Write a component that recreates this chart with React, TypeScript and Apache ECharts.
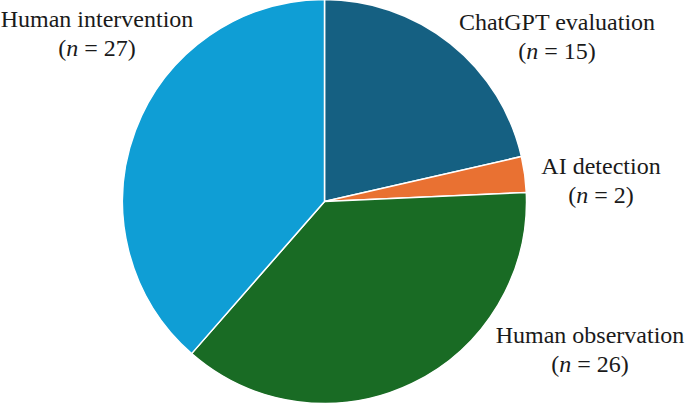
import React, { useEffect, useRef } from "react";
import * as echarts from "echarts";

const categories = ["ChatGPT evaluation", "AI detection", "Human observation", "Human intervention"];
const counts = [15, 2, 26, 27];
const colors = ["#156082", "#E97132", "#196B24", "#0F9ED5"];
// label centre x, line-1 y, line-2 y
const labelPos: [number, number, number][] = [
  [557, 22, 51],
  [601, 166, 195],
  [590, 335, 364],
  [97, 19, 48],
];

const FONT = "Liberation Serif";
const SIZE = 24;

function measure(text: string, italic: boolean): number {
  const c = document.createElement("canvas").getContext("2d");
  if (!c) return text.length * SIZE * 0.5;
  c.font = `${italic ? "italic " : ""}${SIZE}px '${FONT}'`;
  return c.measureText(text).width;
}

export default function App() {
  const ref = useRef<HTMLDivElement>(null);
  useEffect(() => {
    if (!ref.current) return;
    const chart = echarts.init(ref.current, null, { renderer: "svg" });
    const txt = (text: string, x: number, y: number, align: string, italic = false) => ({
      type: "text",
      x,
      y,
      silent: true,
      style: {
        text,
        fontFamily: FONT,
        fontSize: SIZE,
        fontStyle: italic ? "italic" : "normal",
        fill: "#1a1a1a",
        align,
        verticalAlign: "middle",
      },
    });
    const graphics: any[] = [];
    categories.forEach((c, i) => {
      const [cx, y1, y2] = labelPos[i];
      graphics.push(txt(c, cx, y1, "center"));
      const p1 = "(";
      const p2 = "n";
      const p3 = ` = ${counts[i]})`;
      const w1 = measure(p1, false);
      const w2 = measure(p2, true);
      const w3 = measure(p3, false);
      const start = cx - (w1 + w2 + w3) / 2;
      graphics.push(txt(p1, start, y2, "left"));
      graphics.push(txt(p2, start + w1, y2, "left", true));
      graphics.push(txt(p3, start + w1 + w2, y2, "left"));
    });
    chart.setOption({
      animation: false,
      backgroundColor: "#ffffff",
      series: [
        {
          type: "pie",
          center: [324.5, 201.5],
          radius: 202,
          startAngle: 90,
          clockwise: true,
          silent: true,
          itemStyle: { borderColor: "#ffffff", borderWidth: 1.5 },
          label: { show: false },
          labelLine: { show: false },
          data: categories.map((c, i) => ({ name: c, value: counts[i], itemStyle: { color: colors[i] } })),
        },
      ],
      graphic: graphics,
    });
    return () => chart.dispose();
  }, []);
  return <div ref={ref} style={{ position: "fixed", left: 0, top: 0, width: 685, height: 405 }} />;
}
